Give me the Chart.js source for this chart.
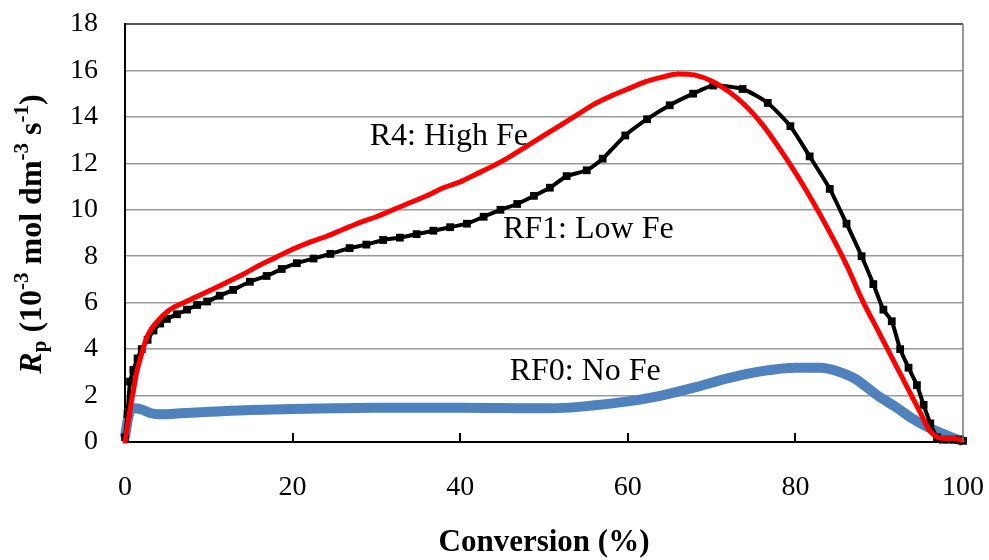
<!DOCTYPE html>
<html>
<head>
<meta charset="utf-8">
<script src="https://cdn.jsdelivr.net/npm/chart.js@4/dist/chart.umd.min.js"></script>
<style>
  body { margin: 0; background: #fff; }
  #wrap { width: 989px; height: 560px; }
</style>
</head>
<body>
<div id="wrap"><canvas id="myChart" width="989" height="560"></canvas></div>
<script>
// RF1: Low Fe (black, squares)
const rf1X = [0, 0.3, 0.6, 1.0, 1.5, 2.0, 2.7, 3.4, 4.2, 5.0, 6.2, 7.4, 8.6, 9.8, 11.3, 12.9, 14.9, 16.9, 18.7, 20.5,
  22.5, 24.5, 26.8, 28.8, 30.8, 32.8, 34.8, 36.8, 38.8, 40.8, 42.8, 44.8, 46.8, 48.8, 50.7, 52.7, 55.1, 57.0, 59.7,
  62.3, 65.0, 67.8, 70.2, 73.7, 76.7, 79.4, 81.7, 84.1, 86.1, 87.9, 89.3, 90.5, 91.5, 92.5, 93.5, 94.5, 95.3, 96.1,
  96.9, 97.6, 98.3, 99.0, 99.6, 100];
const rf1Y = [0.2, 1.2, 2.6, 3.1, 3.6, 4.0, 4.4, 4.8, 5.1, 5.3, 5.5, 5.7, 5.9, 6.05, 6.3, 6.55, 6.9, 7.15, 7.45, 7.7,
  7.9, 8.1, 8.35, 8.5, 8.7, 8.8, 8.95, 9.1, 9.25, 9.4, 9.7, 10.0, 10.25, 10.6, 10.95, 11.45, 11.7, 12.2, 13.2,
  13.9, 14.5, 15.0, 15.35, 15.2, 14.6, 13.6, 12.3, 10.9, 9.4, 8.0, 6.8, 5.7, 5.2, 4.0, 3.2, 2.45, 1.6, 0.8,
  0.2, 0.1, 0.1, 0.1, 0.1, 0.05];

// R4: High Fe (red, triangles)
const r4X = [0, 0.3, 0.6, 1.0, 1.4, 2.0, 2.6, 3.3, 4.0, 5.0, 5.8, 7.0, 8.0, 9.0, 10, 12, 14, 16, 18, 20,
  22, 24, 26, 28, 30, 32, 34, 36, 38, 40, 42, 44, 46, 48, 50, 52, 54, 56, 58, 60, 62, 64, 66, 68, 70,
  72, 74, 76, 78, 80, 82, 84, 86, 88, 90, 92, 94, 95, 96, 97, 98, 99, 100];
const r4Y = [0, 0.7, 1.4, 2.2, 3.0, 3.8, 4.5, 4.95, 5.25, 5.6, 5.8, 6.0, 6.17, 6.33, 6.5, 6.85, 7.2, 7.6, 7.95, 8.3,
  8.6, 8.85, 9.15, 9.45, 9.7, 10.0, 10.3, 10.6, 10.95, 11.2, 11.55, 11.9, 12.3, 12.75, 13.2, 13.65, 14.1, 14.55, 14.9, 15.2, 15.5, 15.7, 15.85, 15.8, 15.55,
  15.1, 14.5, 13.7, 12.7, 11.6, 10.4, 9.1, 7.7, 6.1, 4.7, 3.3, 1.9, 1.2, 0.5, 0.2, 0.15, 0.15, 0.05];

// RF0: No Fe (blue)
const rf0X = [0, 0.3, 0.6, 1, 2, 3, 4, 5, 7, 10, 15, 20, 25, 30, 35, 40, 45, 50, 53, 56, 60, 64, 68, 72, 76, 80,
  83, 85, 87, 90, 92, 94, 96, 98, 99, 100];
const rf0Y = [0.2, 0.9, 1.35, 1.45, 1.4, 1.25, 1.2, 1.2, 1.25, 1.3, 1.38, 1.42, 1.45, 1.47, 1.47, 1.47, 1.46, 1.45,
  1.48, 1.58, 1.75, 2.0, 2.35, 2.75, 3.05, 3.2, 3.2, 3.05, 2.75, 1.95, 1.5, 1.0, 0.6, 0.3, 0.15, 0.05];

const seriesLabels = ['R4: High Fe', 'RF1: Low Fe', 'RF0: No Fe'];
const xTicks = [0, 20, 40, 60, 80, 100];
const yTicks = [0, 2, 4, 6, 8, 10, 12, 14, 16, 18];

const pts = (xs, ys) => xs.map((x, i) => ({ x: x, y: ys[i] }));

const serif = '"Liberation Serif", "Times New Roman", serif';

const extras = {
  id: 'extras',
  afterDraw(chart) {
    const ctx = chart.ctx;
    const xs = chart.scales.x, ys = chart.scales.y;
    const a = chart.chartArea;
    ctx.save();
    // right border
    ctx.strokeStyle = '#777';
    ctx.lineWidth = 1.5;
    ctx.beginPath();
    ctx.moveTo(a.right, a.top);
    ctx.lineTo(a.right, a.bottom);
    ctx.stroke();
    // inside tick marks
    ctx.strokeStyle = '#000';
    ctx.lineWidth = 2;
    [20, 40, 60, 80].forEach(v => {
      const px = Math.round(xs.getPixelForValue(v));
      ctx.beginPath();
      ctx.moveTo(px, a.bottom);
      ctx.lineTo(px, a.bottom - 9);
      ctx.stroke();
    });
    // series labels
    ctx.fillStyle = '#000';
    ctx.font = '32px ' + serif;
    ctx.textBaseline = 'middle';
    ctx.textAlign = 'left';
    const spots = [[29.2, 13.15], [45.1, 9.13], [45.9, 3.03]];
    seriesLabels.forEach((t, i) => {
      ctx.fillText(t, xs.getPixelForValue(spots[i][0]), ys.getPixelForValue(spots[i][1]));
    });
    // x title
    ctx.font = 'bold 31px ' + serif;
    ctx.textAlign = 'center';
    ctx.fillText('Conversion (%)', (a.left + a.right) / 2, 543);
    // y title
    const big = 'bold 32px ' + serif, small = 'bold 21px ' + serif;
    const parts = [
      { t: 'R', f: 'italic bold 32px ' + serif, dy: 0 },
      { t: 'p', f: small, dy: 8 },
      { t: ' (10', f: big, dy: 0 },
      { t: '-3', f: small, dy: -10 },
      { t: ' mol dm', f: big, dy: 0 },
      { t: '-3', f: small, dy: -10 },
      { t: ' s', f: big, dy: 0 },
      { t: '-1', f: small, dy: -10 },
      { t: ')', f: big, dy: 0 }
    ];
    let total = 0;
    parts.forEach(p => { ctx.font = p.f; p.w = ctx.measureText(p.t).width; total += p.w; });
    ctx.translate(33, 234);
    ctx.rotate(-Math.PI / 2);
    ctx.textAlign = 'left';
    let cx = -total / 2;
    parts.forEach(p => { ctx.font = p.f; ctx.fillText(p.t, cx, p.dy); cx += p.w; });
    ctx.restore();
  }
};

new Chart(document.getElementById('myChart').getContext('2d'), {
  type: 'line',
  data: {
    datasets: [
      {
        label: seriesLabels[0],
        data: pts(r4X, r4Y),
        borderColor: '#ff0000',
        backgroundColor: '#ff0000',
        borderWidth: 5,
        pointStyle: 'triangle',
        pointRadius: 3,
        pointBorderWidth: 0,
        cubicInterpolationMode: 'monotone',
        order: 0
      },
      {
        label: seriesLabels[1],
        data: pts(rf1X, rf1Y),
        borderColor: '#000000',
        backgroundColor: '#000000',
        borderWidth: 4,
        pointStyle: 'rect',
        pointRadius: 5.5,
        pointBorderWidth: 0,
        tension: 0.2,
        order: 1
      },
      {
        label: seriesLabels[2],
        data: pts(rf0X, rf0Y),
        borderColor: '#4f81bd',
        backgroundColor: '#4f81bd',
        borderWidth: 10,
        pointRadius: 0,
        cubicInterpolationMode: 'monotone',
        order: 2
      }
    ]
  },
  options: {
    responsive: false,
    animation: false,
    clip: false,
    layout: { padding: { top: 24, right: 26, left: 0, bottom: 0 } },
    plugins: { legend: { display: false }, tooltip: { enabled: false } },
    scales: {
      x: {
        type: 'linear',
        min: 0,
        max: 100,
        afterFit: s => { s.height = 118; s.paddingLeft = 0; s.paddingRight = 0; },
        afterBuildTicks: s => { s.ticks = xTicks.map(v => ({ value: v })); },
        grid: { display: false },
        border: { color: '#000', width: 2 },
        ticks: { color: '#000', padding: 21, maxRotation: 0, font: { family: serif, size: 28 } }
      },
      y: {
        min: 0,
        max: 18,
        afterFit: s => { s.width = 125; s.paddingTop = 0; s.paddingBottom = 0; },
        afterBuildTicks: s => { s.ticks = yTicks.map(v => ({ value: v })); },
        grid: {
          drawTicks: false,
          color: c => c.tick && c.tick.value === 18 ? '#555' : '#999',
          lineWidth: c => c.tick && c.tick.value === 18 ? 2 : 1.5
        },
        border: { color: '#000', width: 2 },
        ticks: { color: '#000', padding: 27, font: { family: serif, size: 28 } }
      }
    }
  },
  plugins: [extras]
});
</script>
</body>
</html>
